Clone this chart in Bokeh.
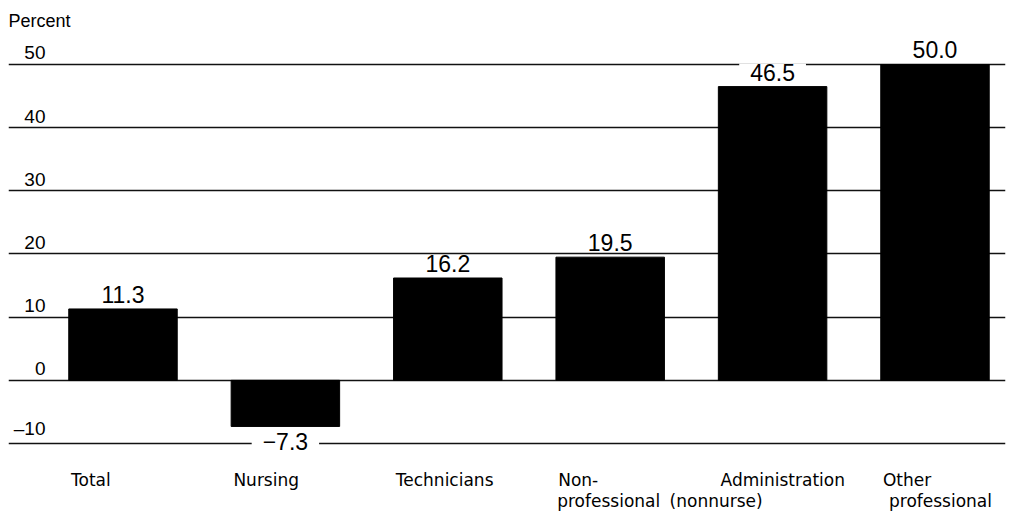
from bokeh.plotting import figure
from bokeh.models import ColumnDataSource, FixedTicker, Range1d
from bokeh.core.properties import value
from bokeh.embed import file_html
from bokeh.resources import INLINE

# ---- data ----
categories = ["Total", "Nursing", "Technicians", "Non-\nprofessional",
              "Administration\n(nonnurse)", "Other\nprofessional"]
values = [11.3, -7.3, 16.2, 19.5, 46.5, 50.0]
value_labels = ["11.3", "\u22127.3", "16.2", "19.5", "46.5", "50.0"]
tick_values = [-10, 0, 10, 20, 30, 40, 50]
tick_labels = ["\u201310", "0", "10", "20", "30", "40", "50"]
axis_title = "Percent"

# ---- layout ----
W, H = 1010, 513
LEFT, RIGHT = 8, 5
x0 = -0.705
x1 = x0 + (W - LEFT - RIGHT) / 162.4
y0, y1 = -21.08, 60.13
BAR_W = 0.668
FONT = value("Liberation Sans")
CAT_FONT = value("DejaVu Sans")

p = figure(width=W, height=H, output_backend="svg", toolbar_location=None,
           x_range=Range1d(x0, x1), y_range=Range1d(y0, y1),
           min_border=0, min_border_left=LEFT, min_border_right=RIGHT,
           min_border_top=0, min_border_bottom=0, outline_line_color=None)
p.xaxis.visible = False
p.yaxis.visible = False
p.xgrid.visible = False
p.ygrid.ticker = FixedTicker(ticks=tick_values)
p.ygrid.grid_line_color = "#111111"
p.ygrid.grid_line_width = 1.7

xs = list(range(len(categories)))
src = ColumnDataSource(dict(x=xs, top=values, bottom=[0] * len(values)))
p.vbar(x="x", top="top", bottom="bottom", width=BAR_W, source=src,
       fill_color="black", line_color="black")

# value labels
pos = [i for i, v in enumerate(values) if v >= 0]
neg = [i for i, v in enumerate(values) if v < 0]
pad = dict(left=11, right=11, top=0, bottom=0)
p.text(x=[xs[i] for i in pos], y=[values[i] for i in pos],
       text=[value_labels[i] for i in pos], text_font=FONT, text_font_size="23px",
       text_align="center", text_baseline="bottom", y_offset=-6,
       text_color="black", background_fill_color="white", padding=pad)
p.text(x=[xs[i] for i in neg], y=[values[i] for i in neg],
       text=[value_labels[i] for i in neg], text_font=FONT, text_font_size="23px",
       text_align="center", text_baseline="top", y_offset=7,
       text_color="black", background_fill_color="white", padding=pad)

# y tick labels
p.text(x=[x0] * len(tick_values), y=tick_values, text=tick_labels,
       text_font=FONT, text_font_size="19px", text_align="right",
       text_baseline="bottom", x_offset=37, y_offset=-5, text_color="black")

# axis title
p.text(x=[x0], y=[y1], text=[axis_title], text_font=FONT, text_font_size="18px",
       text_align="left", text_baseline="top", x_offset=0, y_offset=10,
       text_color="black")

# category labels
first = [c.split("\n")[0] for c in categories]
second = [c.split("\n")[1] if "\n" in c else "" for c in categories]
second_shift = [0, 0, 0, -53, -103, -46]
p.text(x=xs, y=[-10] * len(xs), text=first, text_font=CAT_FONT, text_font_size="17px",
       text_align="left", text_baseline="bottom", x_offset=-52, y_offset=46,
       text_color="black")
for i, s in enumerate(second):
    if s:
        p.text(x=[xs[i]], y=[-10], text=[s], text_font=CAT_FONT, text_font_size="17px",
               text_align="left", text_baseline="bottom",
               x_offset=second_shift[i], y_offset=67, text_color="black")

open("out.html", "w").write(file_html(p, INLINE))
